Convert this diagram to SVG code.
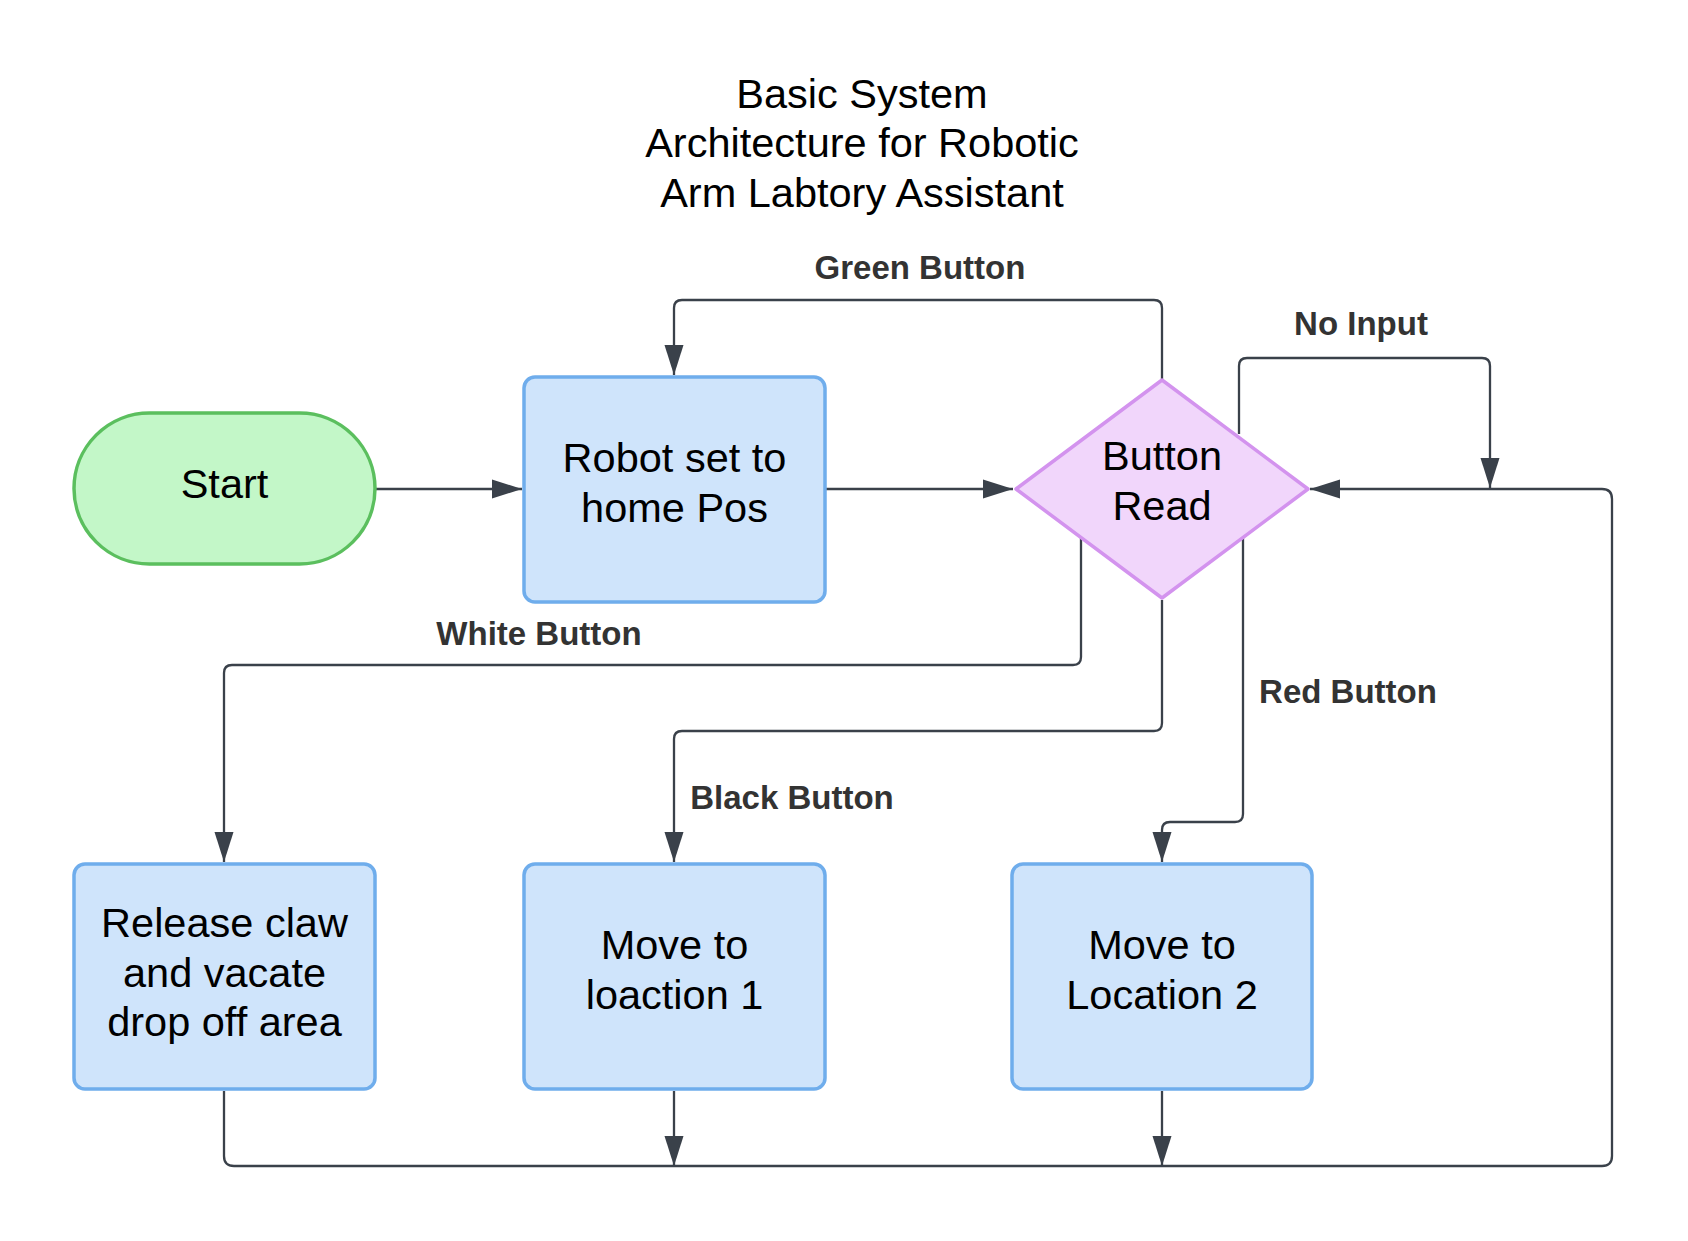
<svg xmlns="http://www.w3.org/2000/svg" width="1688" height="1241" viewBox="0 0 1688 1241">
  <defs>
    <marker id="arrow" markerUnits="userSpaceOnUse" markerWidth="30" markerHeight="20" refX="30" refY="10" orient="auto">
      <path d="M0,0.5 L30,10 L0,19.5 z" fill="#3a414a"/>
    </marker>
    <style>
      .txt { font-family: "Liberation Sans", Arial, sans-serif; font-size: 41.5px; fill: #000000; text-anchor: middle; }
      .lbl { font-family: "Liberation Sans", Arial, sans-serif; font-size: 33px; font-weight: bold; fill: #333333; text-anchor: middle; }
      .box { fill: #cfe4fb; stroke: #6fadec; stroke-width: 3.5; }
      .conn { fill: none; stroke: #3a414a; stroke-width: 2.3; stroke-linejoin: round; }
      .arr { marker-end: url(#arrow); }
    </style>
  </defs>
  <rect x="0" y="0" width="1688" height="1241" fill="#ffffff"/>

  <g id="title">
    <text class="txt" x="862" y="108">Basic System</text>
    <text class="txt" x="862" y="157">Architecture for Robotic</text>
    <text class="txt" x="862" y="207">Arm Labtory Assistant</text>
  </g>

  <g id="connectors">
    <path class="conn arr" d="M375,489 L522,489"/>
    <path class="conn arr" d="M826,489 L1013,489"/>
    <path class="conn arr" d="M1162,380 L1162,308 Q1162,300 1154,300 L682,300 Q674,300 674,308 L674,375"/>
    <path class="conn arr" d="M1239,434 L1239,366 Q1239,358 1247,358 L1482,358 Q1490,358 1490,366 L1490,488"/>
    <path class="conn" d="M224,1091 L224,1156 Q224,1166 234,1166 L1602,1166 Q1612,1166 1612,1156 L1612,499 Q1612,489 1602,489 L1400,489"/>
    <path class="conn arr" d="M1400,489 L1310,489"/>
    <path class="conn arr" d="M674,1091 L674,1166"/>
    <path class="conn arr" d="M1162,1091 L1162,1166"/>
    <path class="conn arr" d="M1081,538 L1081,657 Q1081,665 1073,665 L232,665 Q224,665 224,673 L224,862"/>
    <path class="conn arr" d="M1162,600 L1162,723 Q1162,731 1154,731 L682,731 Q674,731 674,739 L674,862"/>
    <path class="conn arr" d="M1243,538 L1243,814 Q1243,822 1235,822 L1170,822 Q1162,822 1162,830 L1162,862"/>
  </g>

  <g id="labels">
    <text class="lbl" x="920" y="279">Green Button</text>
    <text class="lbl" x="1361" y="335">No Input</text>
    <text class="lbl" x="539" y="645">White Button</text>
    <text class="lbl" x="792" y="809">Black Button</text>
    <text class="lbl" x="1348" y="703">Red Button</text>
  </g>

  <g id="node-start">
    <rect x="74" y="413" width="301" height="151" rx="75.5" ry="75.5" fill="#c3f7c8" stroke="#5bbf5e" stroke-width="3.5"/>
    <text class="txt" x="224.5" y="498">Start</text>
  </g>

  <g id="node-home">
    <rect class="box" x="524" y="377" width="301" height="225" rx="11" ry="11"/>
    <text class="txt" x="674.5" y="472">Robot set to</text>
    <text class="txt" x="674.5" y="522">home Pos</text>
  </g>

  <g id="node-read">
    <path d="M1162,380 L1308,489 L1162,598 L1016,489 Z" fill="#f1d6fb" stroke="#d393ee" stroke-width="3.5" stroke-linejoin="round"/>
    <text class="txt" x="1162" y="470">Button</text>
    <text class="txt" x="1162" y="520">Read</text>
  </g>

  <g id="node-release">
    <rect class="box" x="74" y="864" width="301" height="225" rx="11" ry="11"/>
    <text class="txt" x="224.5" y="937">Release claw</text>
    <text class="txt" x="224.5" y="987">and vacate</text>
    <text class="txt" x="224.5" y="1036">drop off area</text>
  </g>

  <g id="node-loc1">
    <rect class="box" x="524" y="864" width="301" height="225" rx="11" ry="11"/>
    <text class="txt" x="674.5" y="959">Move to</text>
    <text class="txt" x="674.5" y="1009">loaction 1</text>
  </g>

  <g id="node-loc2">
    <rect class="box" x="1012" y="864" width="300" height="225" rx="11" ry="11"/>
    <text class="txt" x="1162" y="959">Move to</text>
    <text class="txt" x="1162" y="1009">Location 2</text>
  </g>
</svg>
